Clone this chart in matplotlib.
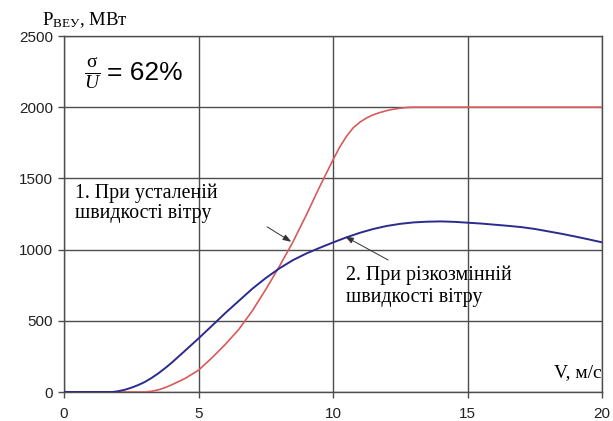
import numpy as np
import matplotlib
matplotlib.use("Agg")
import matplotlib.pyplot as plt

plt.rcParams['mathtext.fontset'] = 'custom'
plt.rcParams['mathtext.rm'] = 'Liberation Serif'
plt.rcParams['mathtext.it'] = 'Liberation Serif:italic'

# швидкість вітру, м/с та потужність ВЕУ, МВт
v_steady = [0, 1, 2, 3, 3.25, 3.5, 3.75, 4, 4.5, 5, 5.5, 6, 6.5, 7, 7.5, 8,
            8.5, 9, 9.5, 10, 10.25, 10.5, 10.75, 11, 11.25, 11.5, 11.75, 12,
            12.25, 12.5, 12.75, 13, 14, 16, 18, 20]
p_steady = [0, 0, 0, 0, 5, 15, 30, 50, 95, 153, 240, 335, 440, 570, 720, 880,
            1050, 1240, 1440, 1630, 1720, 1795, 1855, 1895, 1925, 1947, 1963,
            1976, 1986, 1993, 1998, 2000, 2000, 2000, 2000, 2000]

v_gusty = [0, 1, 1.8, 2, 2.25, 2.5, 2.75, 3, 3.25, 3.5, 3.75, 4, 4.5, 5, 5.5,
           6, 6.5, 7, 7.5, 8, 8.5, 9, 9.5, 10, 10.5, 11, 11.5, 12, 12.5, 13,
           13.5, 14, 14.5, 15, 15.5, 16, 16.5, 17, 17.5, 18, 18.5, 19, 19.5, 20]
p_gusty = [0, 0, 0, 5, 15, 30, 48, 70, 98, 130, 166, 205, 290, 376, 465, 555,
           640, 725, 800, 867, 925, 972, 1012, 1050, 1086, 1118, 1145, 1166,
           1181, 1191, 1196, 1198, 1195, 1189, 1183, 1175, 1167, 1158, 1145,
           1128, 1111, 1092, 1072, 1051]

x_ticks = [0, 5, 10, 15, 20]
y_ticks = [0, 500, 1000, 1500, 2000, 2500]

fig = plt.figure(figsize=(6.13, 4.21), dpi=100)
ax = fig.add_axes([64 / 613, 29 / 421, 538 / 613, 356 / 421])

ax.plot(v_steady, p_steady, color='#d85a5a', lw=1.2, zorder=3)
ax.plot(v_gusty, p_gusty, color='#2b2b8f', lw=1.4, zorder=4)

ax.set_xlim(0, 20)
ax.set_ylim(0, 2500)
ax.set_xticks(x_ticks)
ax.set_yticks(y_ticks)
ax.grid(True, color='#4d4d4d', lw=1.0)
for s in ax.spines.values():
    s.set_color('#4d4d4d')
    s.set_linewidth(1.0)
ax.tick_params(axis='both', colors='#4d4d4d', length=4, width=1.0,
               labelsize=11, labelcolor='#222222')
ax.tick_params(axis='x', pad=6.5)
ax.tick_params(axis='y', pad=4)
for lab in ax.get_xticklabels() + ax.get_yticklabels():
    lab.set_family('Liberation Sans')

serif = 'Liberation Serif'

# підписи осей
fig.text(42 / 613, 1 - 20 / 421, r'$\mathrm{P}_{\mathrm{ВЕУ}}$, МВт',
         family=serif, fontsize=13.5, ha='left', va='center')
ax.text(20, (392 - 373) / 0.1424, 'V, м/с', family=serif,
        fontsize=14, ha='right', va='center')

# відношення σ/U
fig.text(84 / 613, 1 - 73 / 421, r'$\frac{\mathrm{σ}}{U}$', fontsize=20,
         ha='left', va='center')
fig.text(107 / 613, 1 - 73 / 421, '= 62%', family='Liberation Sans',
         fontsize=19, ha='left', va='center')

# пояснення до кривих
ax.text(0.4, 1461, '1. При усталеній\nшвидкості вітру', family=serif,
        fontsize=14.3, ha='left', va='top', linespacing=1.05)
ax.text(10.5, 885, '2. При різкозмінній\nшвидкості вітру', family=serif,
        fontsize=14.3, ha='left', va='top', linespacing=1.15)

arrow = dict(arrowstyle='-|>,head_length=0.5,head_width=0.18',
             color='#333333', lw=0.7, shrinkA=0, shrinkB=0)
ax.annotate('', xy=(8.45, 1055), xytext=(7.55, 1160), arrowprops=arrow)
ax.annotate('', xy=(10.45, 1092), xytext=(12.05, 927), arrowprops=arrow)

fig.savefig('out.png', dpi=100)
